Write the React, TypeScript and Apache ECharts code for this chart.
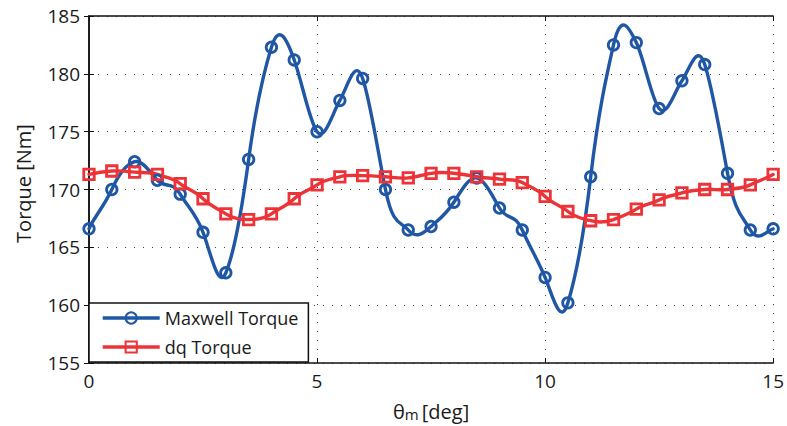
import React, { useEffect, useRef } from "react";
import * as echarts from "echarts";

// Rotor position samples (mechanical degrees)
const thetaDeg = [
  0, 0.5, 1, 1.5, 2, 2.5, 3, 3.5, 4, 4.5, 5, 5.5, 6, 6.5, 7, 7.5, 8, 8.5, 9, 9.5,
  10, 10.5, 11, 11.5, 12, 12.5, 13, 13.5, 14, 14.5, 15,
];

// Torque from the Maxwell stress tensor [Nm]
const maxwellTorque = [
  166.6, 170.0, 172.4, 170.8, 169.6, 166.3, 162.8, 172.6, 182.3, 181.2, 175.0,
  177.7, 179.6, 170.0, 166.5, 166.8, 168.9, 171.0, 168.4, 166.5, 162.4, 160.2,
  171.1, 182.5, 182.7, 177.0, 179.4, 180.8, 171.4, 166.5, 166.6,
];

// Torque from the dq model [Nm]
const dqTorque = [
  171.3, 171.6, 171.5, 171.3, 170.5, 169.2, 167.9, 167.4, 167.9, 169.2, 170.4,
  171.1, 171.2, 171.1, 171.0, 171.4, 171.4, 171.1, 170.9, 170.6, 169.4, 168.1,
  167.3, 167.4, 168.3, 169.1, 169.7, 170.0, 170.0, 170.4, 171.3,
];

const xTicks = [0, 5, 10, 15];
const yTicks = [155, 160, 165, 170, 175, 180, 185];

const FONT = "Open Sans";
const BLUE = "#1f57a5";
const RED = "#ec3338";
const LINE_W = 3.4;

const pairs = (ys: number[]) => thetaDeg.map((x, i) => [x, ys[i]]);

// Smooth spline-like curve through all samples, drawn once in pixel space.
function splineRenderer(values: number[], color: string) {
  return (params: any, api: any) => {
    if (params.dataIndex !== 0) return null;
    const pts = thetaDeg.map((x, i) => api.coord([x, values[i]]) as number[]);
    const n = pts.length;
    let d = `M${pts[0][0]},${pts[0][1]}`;
    for (let i = 0; i < n - 1; i++) {
      const p0 = pts[Math.max(i - 1, 0)];
      const p1 = pts[i];
      const p2 = pts[i + 1];
      const p3 = pts[Math.min(i + 2, n - 1)];
      const c1x = p1[0] + (p2[0] - p0[0]) / 6;
      const c1y = p1[1] + (p2[1] - p0[1]) * 0.25;
      const c2x = p2[0] - (p3[0] - p1[0]) / 6;
      const c2y = p2[1] - (p3[1] - p1[1]) * 0.25;
      d += ` C${c1x},${c1y} ${c2x},${c2y} ${p2[0]},${p2[1]}`;
    }
    return {
      type: "path",
      shape: { pathData: d },
      style: { fill: "none", stroke: color, lineWidth: LINE_W, lineJoin: "round", lineCap: "round" },
      silent: true,
    };
  };
}

export default function App() {
  const ref = useRef<HTMLDivElement>(null);

  useEffect(() => {
    if (!ref.current) return;
    const chart = echarts.init(ref.current, undefined, { renderer: "svg" });

    const dotted = { color: "#444", width: 1, type: [1, 8] as number[] };
    const frame = { show: true, lineStyle: { color: "#111", width: 1.5 } };
    const ticksIn = { show: true, inside: true, length: 5, lineStyle: { color: "#111", width: 1 } };

    const markerSeries = (name: string, values: number[], symbol: string, color: string, z: number) => ({
      name,
      type: "line",
      data: pairs(values),
      symbol,
      symbolSize: 10.5,
      showAllSymbol: true,
      lineStyle: { color, width: LINE_W, opacity: 0 },
      itemStyle: { color: "rgba(255,255,255,0)", borderColor: color, borderWidth: 2.8 },
      z,
    });

    const curveSeries = (values: number[], color: string, z: number) => ({
      type: "custom",
      coordinateSystem: "cartesian2d",
      data: pairs(values),
      encode: { x: 0, y: 1 },
      renderItem: splineRenderer(values, color),
      silent: true,
      z,
    });

    chart.setOption({
      animation: false,
      backgroundColor: "#fff",
      textStyle: { fontFamily: FONT },
      grid: { left: 89, top: 16, width: 686, height: 347 },
      xAxis: [
        {
          type: "value",
          min: xTicks[0],
          max: xTicks[xTicks.length - 1],
          interval: 5,
          axisLine: frame,
          axisTick: ticksIn,
          axisLabel: { color: "#1a1a1a", fontSize: 19, fontFamily: FONT, margin: 8 },
          splitLine: { show: true, lineStyle: dotted },
          name: "{t|θ}{s|m} {t|[deg]}",
          nameLocation: "middle",
          nameGap: 38,
          nameTextStyle: {
            rich: {
              t: { fontSize: 20, fontFamily: FONT, color: "#1a1a1a" },
              s: { fontSize: 15, fontFamily: FONT, color: "#1a1a1a", padding: [5, 0, 0, 0] },
            },
          },
        },
        {
          type: "value",
          position: "top",
          min: xTicks[0],
          max: xTicks[xTicks.length - 1],
          interval: 5,
          axisLine: frame,
          axisTick: ticksIn,
          axisLabel: { show: false },
          splitLine: { show: false },
        },
      ],
      yAxis: [
        {
          type: "value",
          min: yTicks[0],
          max: yTicks[yTicks.length - 1],
          interval: 5,
          axisLine: frame,
          axisTick: ticksIn,
          axisLabel: { color: "#1a1a1a", fontSize: 19, fontFamily: FONT, margin: 9 },
          splitLine: { show: true, lineStyle: dotted },
          name: "Torque [Nm]",
          nameLocation: "middle",
          nameGap: 56,
          nameTextStyle: { fontSize: 20, fontFamily: FONT, color: "#1a1a1a", padding: [0, 0, 0, 12] },
        },
        {
          type: "value",
          position: "right",
          min: yTicks[0],
          max: yTicks[yTicks.length - 1],
          interval: 5,
          axisLine: frame,
          axisTick: ticksIn,
          axisLabel: { show: false },
          splitLine: { show: false },
        },
      ],
      legend: {
        left: 89,
        top: 303,
        orient: "vertical",
        backgroundColor: "#fff",
        borderColor: "#111",
        borderWidth: 1.5,
        borderRadius: 0,
        padding: [5, 10, 5, 12],
        itemGap: 9,
        itemWidth: 57,
        itemHeight: 14,
        textStyle: { fontSize: 18, fontFamily: FONT, color: "#1a1a1a", lineHeight: 20 },
        data: [
          { name: "Maxwell Torque", lineStyle: { color: BLUE, width: LINE_W, opacity: 1 } },
          { name: "dq Torque", lineStyle: { color: RED, width: LINE_W, opacity: 1 } },
        ],
      },
      series: [
        curveSeries(maxwellTorque, BLUE, 2),
        curveSeries(dqTorque, RED, 3),
        markerSeries("Maxwell Torque", maxwellTorque, "circle", BLUE, 4),
        markerSeries("dq Torque", dqTorque, "rect", RED, 5),
      ],
    });

    return () => chart.dispose();
  }, []);

  return (
    <div
      ref={ref}
      style={{ position: "fixed", left: 0, top: 0, width: 787, height: 426, background: "#fff" }}
    />
  );
}
